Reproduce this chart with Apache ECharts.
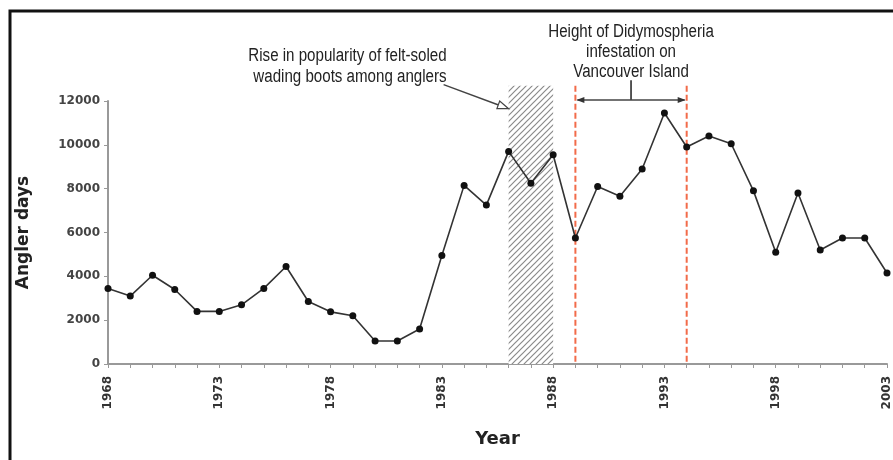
<!DOCTYPE html>
<html>
<head>
<meta charset="utf-8">
<script src="https://cdn.jsdelivr.net/npm/echarts@6/dist/echarts.min.js"></script>
<style>
    html, body {margin: 0; padding: 0; background: #fff}
    #chart {width: 893px; height: 460px}
</style>
</head>
<body>
<div id="chart"></div>
<script>
let years = [1968, 1969, 1970, 1971, 1972, 1973, 1974, 1975, 1976, 1977,
    1978, 1979, 1980, 1981, 1982, 1983, 1984, 1985, 1986, 1987,
    1988, 1989, 1990, 1991, 1992, 1993, 1994, 1995, 1996, 1997,
    1998, 1999, 2000, 2001, 2002, 2003]
let anglerDays = [3450, 3100, 4050, 3400, 2400, 2400, 2700, 3450, 4450, 2850,
    2380, 2200, 1050, 1050, 1600, 4950, 8150, 7250, 9700, 8250,
    9550, 5750, 8100, 7650, 8900, 11450, 9900, 10400, 10050, 7900,
    5100, 7800, 5200, 5750, 5750, 4150]
let yTicks = [0, 2000, 4000, 6000, 8000, 10000, 12000]
let hatchYears = [1986, 1988], hatchTop = 12700
let infestYears = [1989, 1994], infestTop = 12700, bracketY = 12050, stemTop = 12950
let feltPointer = [1986, 11650]
let feltText = 'Rise in popularity of felt-soled\nwading boots among anglers'
let infestText = 'Height of Didymospheria\ninfestation on\nVancouver Island'

let boldFont = 'DejaVu Sans'
let narrowFont = '"Liberation Sans Narrow", "Liberation Sans", Arial, sans-serif'

let chart = echarts.init(document.getElementById('chart'))
let option = {
    animation: false,
    backgroundColor: '#fff',
    grid: {left: 108, right: 6, top: 101, bottom: 96},
    xAxis: {
        type: 'value',
        min: years[0],
        max: years[years.length - 1],
        interval: 1,
        name: 'Year',
        nameLocation: 'middle',
        nameGap: 66,
        nameTextStyle: {fontFamily: boldFont, fontWeight: 'bold', fontSize: 18, color: '#222'},
        axisLine: {lineStyle: {color: '#999', width: 2}},
        axisTick: {length: 4, lineStyle: {color: '#999'}},
        splitLine: {show: false},
        axisLabel: {
            rotate: 90,
            margin: 12,
            fontFamily: boldFont,
            fontWeight: 'bold',
            fontSize: 12,
            color: '#333',
            formatter: function (v) {
                return (v - years[0]) % 5 === 0 ? String(v) : ''
            }
        }
    },
    yAxis: {
        type: 'value',
        min: yTicks[0],
        max: yTicks[yTicks.length - 1],
        interval: 2000,
        name: 'Angler days',
        nameLocation: 'middle',
        nameGap: 76,
        nameRotate: 90,
        nameTextStyle: {fontFamily: boldFont, fontWeight: 'bold', fontSize: 17, color: '#222'},
        axisLine: {show: true, lineStyle: {color: '#999', width: 2}},
        axisTick: {show: true, length: 4, lineStyle: {color: '#999'}},
        splitLine: {show: false},
        axisLabel: {
            margin: 8, fontFamily: boldFont, fontWeight: 'bold', fontSize: 12, color: '#444',
            formatter: function (v) { return String(v) }
        }
    },
    series: [{
        type: 'line',
        data: years.map(function (y, i) { return [y, anglerDays[i]] }),
        symbol: 'circle',
        symbolSize: 7,
        clip: false,
        z: 5,
        lineStyle: {color: '#333', width: 1.6},
        itemStyle: {color: '#111'}
    }]
}
chart.setOption(option)

// hatch pattern for the felt-soled boots band
let tile = document.createElement('canvas')
tile.width = 6
tile.height = 6
let ctx = tile.getContext('2d')
ctx.fillStyle = '#fff'
ctx.fillRect(0, 0, 6, 6)
ctx.strokeStyle = '#8a8a8a'
ctx.lineWidth = 1.2
ctx.beginPath()
ctx.moveTo(-1, 7); ctx.lineTo(7, -1)
ctx.moveTo(-7, 7); ctx.lineTo(1, -1)
ctx.moveTo(5, 7); ctx.lineTo(13, -1)
ctx.stroke()

function px(x, y) {
    return chart.convertToPixel({gridIndex: 0}, [x, y])
}

let graphics = []
// outer frame
graphics.push({type: 'rect', shape: {x: 10, y: 11, width: 900, height: 470}, style: {fill: 'none', stroke: '#111', lineWidth: 3}, z: 1})

let h0 = px(hatchYears[0], hatchTop), h1 = px(hatchYears[1], 0)
graphics.push({
    type: 'rect',
    shape: {x: h0[0], y: h0[1], width: h1[0] - h0[0], height: h1[1] - h0[1]},
    style: {fill: {image: tile, repeat: 'repeat'}, stroke: 'none'},
    z: 1
})

infestYears.forEach(function (yr) {
    let a = px(yr, infestTop), b = px(yr, 0)
    graphics.push({
        type: 'line',
        shape: {x1: a[0], y1: a[1], x2: b[0], y2: b[1]},
        style: {stroke: '#f26b4a', lineWidth: 2, lineDash: [6, 3]},
        z: 3
    })
})

// bracket with arrows
let l = px(infestYears[0], bracketY), r = px(infestYears[1], bracketY)
let mid = px((infestYears[0] + infestYears[1]) / 2, bracketY), midTop = px((infestYears[0] + infestYears[1]) / 2, stemTop)
graphics.push({type: 'line', shape: {x1: l[0] + 2, y1: l[1], x2: r[0] - 2, y2: r[1]}, style: {stroke: '#444', lineWidth: 1.5}, z: 4})
graphics.push({type: 'line', shape: {x1: mid[0], y1: mid[1], x2: midTop[0], y2: midTop[1]}, style: {stroke: '#444', lineWidth: 1.8}, z: 4})
graphics.push({type: 'polygon', shape: {points: [[l[0] + 1, l[1]], [l[0] + 9, l[1] - 3], [l[0] + 9, l[1] + 3]]}, style: {fill: '#333'}, z: 4})
graphics.push({type: 'polygon', shape: {points: [[r[0] - 1, r[1]], [r[0] - 9, r[1] - 3], [r[0] - 9, r[1] + 3]]}, style: {fill: '#333'}, z: 4})

graphics.push({
    type: 'text',
    x: mid[0], y: 22,
    scaleX: 0.84,
    style: {text: infestText, font: '18px ' + narrowFont, fill: '#222', textAlign: 'center', textVerticalAlign: 'top', lineHeight: 20},
    z: 4
})

// pointer to the hatched band
let tip = px(feltPointer[0], feltPointer[1])
let start = [tip[0] - 65, tip[1] - 24]
let ang = Math.atan2(tip[1] - start[1], tip[0] - start[0])
function rot(dx, dy) {
    return [tip[0] + dx * Math.cos(ang) - dy * Math.sin(ang), tip[1] + dx * Math.sin(ang) + dy * Math.cos(ang)]
}
graphics.push({type: 'line', shape: {x1: start[0], y1: start[1], x2: rot(-10, 0)[0], y2: rot(-10, 0)[1]}, style: {stroke: '#444', lineWidth: 1.5}, z: 4})
graphics.push({type: 'polygon', shape: {points: [rot(0, 0), rot(-11, -4), rot(-11, 4)]}, style: {fill: '#fff', stroke: '#444', lineWidth: 1.2}, z: 4})
graphics.push({
    type: 'text',
    x: start[0] + 3, y: 46,
    scaleX: 0.84,
    style: {text: feltText, font: '18px ' + narrowFont, fill: '#222', textAlign: 'right', textVerticalAlign: 'top', lineHeight: 21},
    z: 4
})

chart.setOption({graphic: graphics})
</script>
</body>
</html>
